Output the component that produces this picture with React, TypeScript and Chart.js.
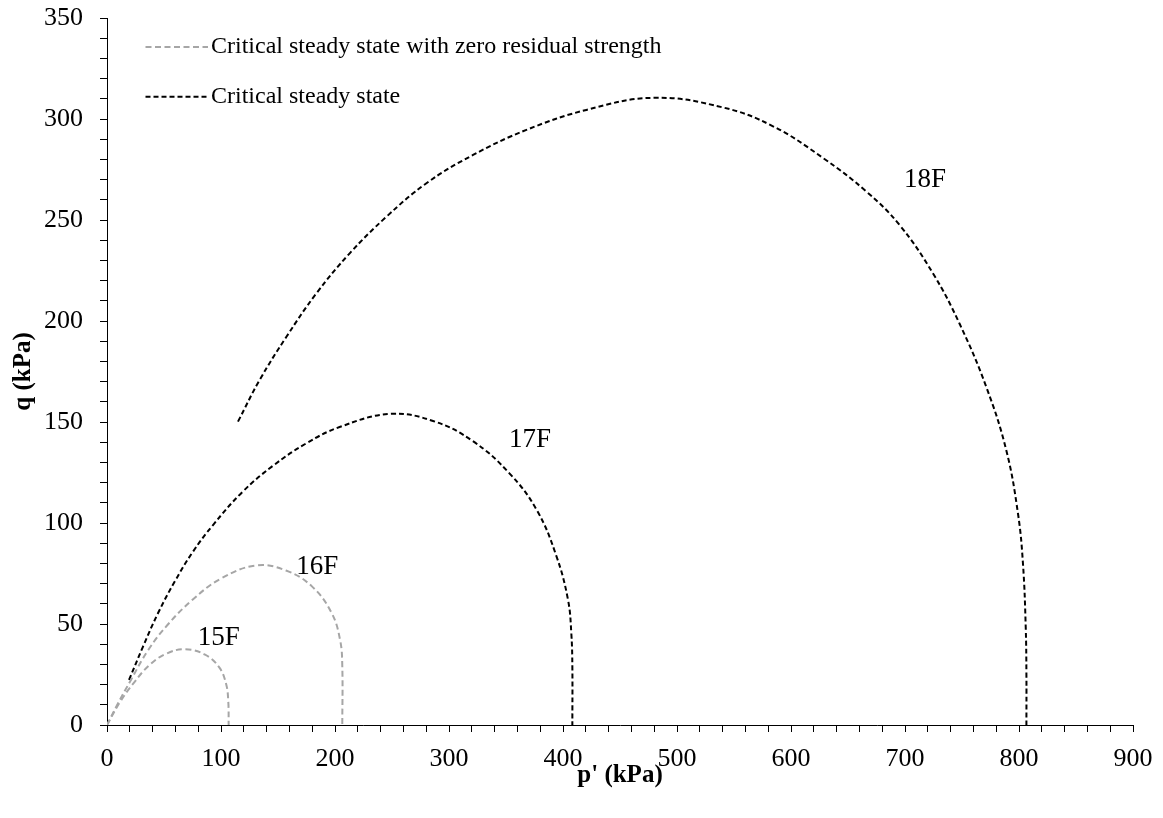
import { useEffect, useRef } from 'react';
import { Chart, registerables } from 'chart.js';

Chart.register(...registerables);

// Stress paths (p', q) in kPa for each test
const p15 = [0, 11, 23, 37.5, 52, 68.5, 86, 98.5, 104.5, 106.4, 106.7];
const q15 = [0, 11, 20.5, 29.8, 35.3, 37.5, 34.8, 28.5, 20.3, 11.5, 0];

const p16 = [0, 9, 21, 36, 53, 75, 100, 131, 157, 180, 197, 204.5, 206.4, 206.4];
const q16 = [0, 10, 22.3, 37, 49.5, 62, 72.5, 79, 76.5, 68.5, 55.5, 42, 29, 0];

const p17 = [19.3, 31.6, 44.7, 59.4, 75.4, 93, 119, 146, 175, 204, 248, 286, 321, 353, 377, 394, 404.4, 407.3, 408.2, 408.2];
const q17 = [22.3, 38.8, 55.3, 71, 85.8, 99, 115.5, 128.5, 139.5, 147.5, 154, 150.5, 140.5, 124.6, 106.4, 84, 62, 45.4, 28.9, 0];

const p18 = [114.9, 133.9, 157.4, 183.7, 212.9, 245.1, 280.2, 321.1, 367.9, 420.5, 480, 540.4, 584.2, 628.1, 666.1, 695.4, 724.6, 748, 771.4, 788.9, 799.1, 803.5, 805.9, 806.5, 806.5];
const q18 = [150.2, 170.8, 192.2, 213.7, 233.5, 251.6, 268.2, 282.2, 294.6, 304.5, 310.5, 305.7, 296.4, 280.7, 264.1, 247.4, 223.5, 198.5, 167.2, 135.9, 104.7, 79.7, 48.5, 25, 0];

// Curve labels and where they sit (p', q)
const curveNames = ['15F', '16F', '17F', '18F'];
const curveLabelP = [98, 184.5, 371, 717.5];
const curveLabelQ = [43.3, 78.4, 141, 270];

// Legend entries: text and the dataset whose style they show
const legendNames = ['Critical steady state with zero residual strength', 'Critical steady state'];
const legendDatasets = [0, 2];

// Axis ranges and tick steps
const xRange = [0, 900];
const yRange = [0, 350];
const xMinorStep = 20;
const xMajorStep = 100;
const yMinorStep = 10;
const yMajorStep = 50;

const FONT = '"Liberation Serif", "Times New Roman", serif';
const GREY = '#a6a6a6';
const BLACK = '#000000';

const toPoints = (p: number[], q: number[]) => p.map((v, i) => ({ x: v, y: q[i] }));

const annotations = {
  id: 'annotations',
  afterDatasetsDraw(chart: any) {
    const { ctx, chartArea } = chart;
    const xs = chart.scales.x;
    const ys = chart.scales.y;
    ctx.save();
    ctx.font = `27px ${FONT}`;
    ctx.fillStyle = BLACK;
    ctx.textBaseline = 'middle';
    ctx.textAlign = 'center';
    curveNames.forEach((t, i) => {
      ctx.fillText(t, xs.getPixelForValue(curveLabelP[i]), ys.getPixelForValue(curveLabelQ[i]));
    });

    // legend inside the plot, top-left
    ctx.font = `24px ${FONT}`;
    legendNames.forEach((text, i) => {
      const ds = chart.data.datasets[legendDatasets[i]];
      const yy = chartArea.top + 29 + i * 49.7;
      const x0 = chartArea.left + 38.5;
      const x1 = x0 + 62.5;
      ctx.strokeStyle = ds.borderColor;
      ctx.lineWidth = ds.borderWidth;
      ctx.setLineDash(ds.borderDash);
      ctx.beginPath();
      ctx.moveTo(x0, yy);
      ctx.lineTo(x1, yy);
      ctx.stroke();
      ctx.setLineDash([]);
      ctx.textAlign = 'left';
      ctx.fillText(text, x1 + 3, yy);
    });
    ctx.restore();
  },
};

export default function App() {
  const canvasRef = useRef<HTMLCanvasElement | null>(null);

  useEffect(() => {
    if (!canvasRef.current) return;
    const lineStyle = (color: string, dash: number[], width: number) => ({
      borderColor: color,
      backgroundColor: color,
      borderWidth: width,
      borderDash: dash,
      showLine: true,
      pointRadius: 0,
      pointHoverRadius: 0,
      tension: 0.4,
      fill: false,
    });

    const axisCommon = {
      grid: {
        drawOnChartArea: false,
        drawTicks: true,
        tickLength: 7,
        tickColor: BLACK,
        tickWidth: 1,
      },
      border: { display: true, color: BLACK, width: 1 },
    };

    const chart = new Chart(canvasRef.current, {
      type: 'scatter',
      data: {
        datasets: [
          { label: '15F', data: toPoints(p15, q15), ...lineStyle(GREY, [6, 3.5], 2) },
          { label: '16F', data: toPoints(p16, q16), ...lineStyle(GREY, [6, 3.5], 2) },
          { label: '17F', data: toPoints(p17, q17), ...lineStyle(BLACK, [5, 3], 2) },
          { label: '18F', data: toPoints(p18, q18), ...lineStyle(BLACK, [5, 3], 2) },
        ],
      },
      options: {
        responsive: false,
        animation: false,
        devicePixelRatio: 1,
        layout: { padding: { top: 18, right: 30, left: 0, bottom: 0 } },
        plugins: {
          legend: { display: false },
          tooltip: { enabled: false },
        },
        scales: {
          x: {
            type: 'linear',
            min: xRange[0],
            max: xRange[1],
            ...axisCommon,
            ticks: {
              stepSize: xMinorStep,
              autoSkip: false,
              maxRotation: 0,
              padding: 12,
              color: BLACK,
              font: { family: FONT, size: 26 },
              callback: (v: any) => (Number(v) % xMajorStep === 0 ? String(v) : ''),
            },
            title: {
              display: true,
              text: "p' (kPa)",
              color: BLACK,
              font: { family: FONT, size: 25, weight: 'bold' },
              padding: { top: 0, bottom: 27 },
            },
            afterFit: (s: any) => {
              s.height = 93;
              s.paddingLeft = 0;
              s.paddingRight = 0;
            },
          },
          y: {
            type: 'linear',
            min: yRange[0],
            max: yRange[1],
            ...axisCommon,
            ticks: {
              stepSize: yMinorStep,
              autoSkip: false,
              padding: 17,
              color: BLACK,
              font: { family: FONT, size: 26 },
              callback: (v: any) => (Number(v) % yMajorStep === 0 ? String(v) : ''),
            },
            title: {
              display: true,
              text: 'q (kPa)',
              color: BLACK,
              font: { family: FONT, size: 25, weight: 'bold' },
              padding: { top: 9, bottom: 0 },
            },
            afterFit: (s: any) => {
              s.width = 107;
              s.paddingTop = 0;
              s.paddingBottom = 0;
            },
          },
        },
      },
      plugins: [annotations],
    } as any);

    return () => chart.destroy();
  }, []);

  return (
    <div style={{ position: 'fixed', left: 0, top: 0, width: 1163, height: 818, background: '#fff' }}>
      <canvas ref={canvasRef} width={1163} height={818} style={{ width: 1163, height: 818, display: 'block' }} />
    </div>
  );
}
